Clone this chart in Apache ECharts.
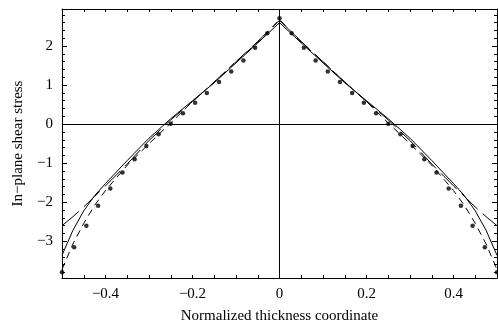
<!DOCTYPE html>
<html>
<head>
<meta charset="utf-8">
<script src="https://cdn.jsdelivr.net/npm/echarts@6/dist/echarts.min.js"></script>
<style>
html,body{margin:0;padding:0;background:#fff;}
#chart{width:498px;height:331px;}
</style>
</head>
<body>
<div id="chart"></div>
<script>
// ---- data ----
const dotX = [-0.5,-0.472,-0.444,-0.417,-0.389,-0.361,-0.333,-0.306,-0.278,-0.25,-0.222,-0.194,-0.167,-0.139,-0.111,-0.083,-0.056,-0.028,0,
              0.028,0.056,0.083,0.111,0.139,0.167,0.194,0.222,0.25,0.278,0.306,0.333,0.361,0.389,0.417,0.444,0.472,0.5];
const dotY = [-3.79,-3.15,-2.60,-2.09,-1.65,-1.24,-0.90,-0.56,-0.26,0.01,0.28,0.55,0.80,1.08,1.35,1.63,1.96,2.33,2.71,
              2.33,1.96,1.63,1.35,1.08,0.80,0.55,0.28,0.01,-0.26,-0.56,-0.90,-1.24,-1.65,-2.09,-2.60,-3.15,-3.79];

const curveX = [-0.5,-0.475,-0.45,-0.425,-0.4,-0.35,-0.3,-0.25,-0.2,-0.15,-0.1,-0.05,0,
                0.05,0.1,0.15,0.2,0.25,0.3,0.35,0.4,0.425,0.45,0.475,0.5];
const solidY = [-3.36,-2.72,-2.22,-1.83,-1.52,-0.93,-0.36,0.14,0.60,1.06,1.57,2.08,2.60,
                2.08,1.57,1.06,0.60,0.14,-0.36,-0.93,-1.52,-1.83,-2.22,-2.72,-3.36];
const longDashY = [-2.60,-2.37,-2.12,-1.85,-1.58,-1.02,-0.42,0.11,0.58,1.08,1.60,2.12,2.66,
                   2.12,1.60,1.08,0.58,0.11,-0.42,-1.02,-1.58,-1.85,-2.12,-2.37,-2.60];
const shortDashY = [-3.72,-3.07,-2.54,-2.08,-1.70,-1.05,-0.50,0.03,0.58,1.08,1.60,2.10,2.68,
                    2.10,1.60,1.08,0.58,0.03,-0.50,-1.05,-1.70,-2.08,-2.54,-3.07,-3.72];

const xTickLabels = [-0.4,-0.2,0,0.2,0.4];
const yTickLabels = [-3,-2,-1,0,1,2];
const xTicks = [-0.5,-0.45,-0.4,-0.35,-0.3,-0.25,-0.2,-0.15,-0.1,-0.05,0,0.05,0.1,0.15,0.2,0.25,0.3,0.35,0.4,0.45,0.5];
const yMinorTicks = [];
for (let v = -38; v <= 28; v += 2) yMinorTicks.push(v / 10);

const X_MIN = -0.5, X_MAX = 0.5, Y_MIN = -3.94, Y_MAX = 2.95;

function fmt(v, dec) {
  if (Math.abs(v) < 1e-9) return '0';
  const s = Math.abs(v).toFixed(dec);
  return (v < 0 ? '\u2212' : '') + s;
}
const pair = (xs, ys) => xs.map((x, i) => [x, ys[i]]);

const FONT = 'Liberation Serif';
const black = '#000';

function xAxisDef(pos, labels) {
  return {
    type: 'value', min: X_MIN, max: X_MAX, position: pos,
    axisLine: { show: true, onZero: false, lineStyle: { color: black, width: 1 } },
    axisTick: { show: true, inside: true, length: 3, customValues: xTicks, lineStyle: { color: black } },
    axisLabel: labels ? { show: true, customValues: xTickLabels, margin: 9, fontFamily: FONT, fontSize: 15, color: black,
                formatter: v => fmt(v, 1) } : { show: false },
    splitLine: { show: false },
    name: labels ? 'Normalized thickness coordinate' : '',
    nameLocation: 'middle', nameGap: 31,
    nameTextStyle: { fontFamily: FONT, fontSize: 15, color: black }
  };
}
function yAxisDef(pos, ticks, len, labels, line) {
  return {
    type: 'value', min: Y_MIN, max: Y_MAX, position: pos,
    axisLine: { show: line, onZero: false, lineStyle: { color: black, width: 1 } },
    axisTick: { show: true, inside: true, length: len, customValues: ticks, lineStyle: { color: black } },
    axisLabel: labels ? { show: true, customValues: yTickLabels, margin: 9, fontFamily: FONT, fontSize: 15, color: black,
                formatter: v => fmt(v, 0) } : { show: false },
    splitLine: { show: false },
    name: labels ? 'In\u2212plane shear stress' : '',
    nameLocation: 'middle', nameGap: 36,
    nameTextStyle: { fontFamily: FONT, fontSize: 15, color: black }
  };
}

const chart = echarts.init(document.getElementById('chart'), null, { renderer: 'canvas' });
chart.setOption({
  animation: false,
  backgroundColor: '#fff',
  grid: { left: 62, right: 1, top: 9, bottom: 53, containLabel: false },
  xAxis: [xAxisDef('bottom', true), xAxisDef('top', false)],
  yAxis: [
    yAxisDef('left', yTickLabels, 5, true, true),
    yAxisDef('left', yMinorTicks, 3, false, false),
    yAxisDef('right', yTickLabels, 5, false, true),
    yAxisDef('right', yMinorTicks, 3, false, false)
  ],
  series: [
    {
      type: 'line', data: pair(curveX, solidY), showSymbol: false, symbol: 'none',
      lineStyle: { color: black, width: 1, type: 'solid' },
      markLine: {
        silent: true, symbol: ['none', 'none'], label: { show: false },
        lineStyle: { color: black, width: 1, type: 'solid' },
        data: [{ xAxis: 0 }, { yAxis: 0 }]
      }
    },
    {
      type: 'line', data: pair(curveX, longDashY), showSymbol: false, symbol: 'none',
      lineStyle: { color: black, width: 1, type: [22, 7] }
    },
    {
      type: 'line', data: pair(curveX, shortDashY), showSymbol: false, symbol: 'none',
      lineStyle: { color: black, width: 1, type: [7, 5] }
    },
    {
      type: 'scatter', data: pair(dotX, dotY), symbol: 'circle', symbolSize: 4.5,
      itemStyle: { color: black }
    }
  ]
});
</script>
</body>
</html>
